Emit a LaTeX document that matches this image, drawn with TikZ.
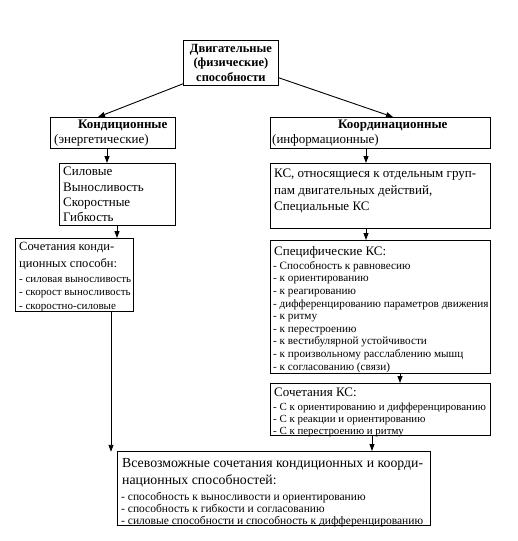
\documentclass[tikz,border=0pt]{standalone}
\usepackage{fontspec}
\setmainfont{Liberation Serif}
\usetikzlibrary{arrows.meta,calc}
\tikzset{
  box/.style={draw, line width=0.8pt, inner sep=0pt, anchor=north west},
  txt/.style={anchor=north west, align=left, inner sep=0pt, font=\fontsize{13}{16.5}\selectfont},
  smalltxt/.style={anchor=north west, align=left, inner sep=0pt, font=\fontsize{11.2}{12.6}\selectfont},
  arr/.style={-{Triangle[length=7pt,width=5pt]}, line width=0.9pt}
}
\begin{document}
\begin{tikzpicture}[x=1pt,y=-1pt]
\useasboundingbox (0,0) rectangle (518,541);
% boxes
\node[box, minimum width=95pt, minimum height=45pt] (top) at (183,40) {};
\node[box, minimum width=125pt, minimum height=31pt] (kond) at (50,117) {};
\node[box, minimum width=220pt, minimum height=31pt] (koord) at (270,117) {};
\node[box, minimum width=116pt, minimum height=62pt] (sil) at (59,163) {};
\node[box, minimum width=220pt, minimum height=65pt] (ks) at (270,163) {};
\node[box, minimum width=118pt, minimum height=73pt] (lsoch) at (15,238) {};
\node[box, minimum width=220pt, minimum height=133pt] (spec) at (270,240) {};
\node[box, minimum width=220pt, minimum height=52pt] (ksoch) at (270,383) {};
\node[box, minimum width=313pt, minimum height=74pt] (all) at (117,451) {};
% texts
\node[anchor=north, align=center, inner sep=0pt, font=\bfseries\fontsize{12.5}{14.5}\selectfont] (topt) at ($(top.north)+(0,4)$) {Двигательные\\(физические)\\способности};
\node[txt, font=\fontsize{13}{15}\selectfont] (kondt) at ($(kond.north west)+(4,3)$) {\hspace*{24pt}\textbf{Кондиционные}\\(энергетические)};
\node[txt, font=\fontsize{13}{15}\selectfont] (koordt) at ($(koord.north west)+(2,3)$) {\hspace*{66pt}\textbf{Координационные}\\(информационные)};
\node[txt, font=\fontsize{13}{15.3}\selectfont] (silt) at ($(sil.north west)+(4,4)$) {Силовые\\Выносливость\\Скоростные\\Гибкость};
\node[txt] (kst) at ($(ks.north west)+(4,6)$) {КС, относящиеся к отдельным груп-\\пам двигательных действий,\\Специальные КС};
\node[txt, font=\fontsize{12.5}{17}\selectfont] (lsocht) at ($(lsoch.north west)+(4,4)$) {Сочетания конди-\\ционных способн:};
\node[smalltxt, font=\fontsize{11}{13.5}\selectfont] (lsochs) at ($(lsoch.north west)+(4,39)$) {- силовая выносливость\\- скорост выносливость\\- скоростно-силовые};
\node[txt] (spect) at ($(spec.north west)+(4,6)$) {Специфические КС:};
\node[smalltxt] (specs) at ($(spec.north west)+(3,21)$) {- Способность к равновесию\\- к ориентированию\\- к реагированию\\- дифференцированию параметров движения\\- к ритму\\- к перестроению\\- к вестибулярной устойчивости\\- к произвольному расслаблению мышц\\- к согласованию (связи)};
\node[txt] (kst2) at ($(ksoch.north west)+(4,5)$) {Сочетания КС:};
\node[smalltxt, font=\fontsize{10.9}{12}\selectfont] (kss) at ($(ksoch.north west)+(3,20)$) {- С к ориентированию и дифференцированию\\- С к реакции и ориентированию\\- С к перестроению и ритму};
\node[txt, font=\fontsize{13.8}{17}\selectfont] (allt) at ($(all.north west)+(5,7)$) {Всевозможные сочетания кондиционных и коорди-\\национных способностей:};
\node[smalltxt, font=\fontsize{11.5}{12}\selectfont] (alls) at ($(all.north west)+(4,41)$) {- способность к выносливости и ориентированию\\- способность к гибкости и согласованию\\- силовые способности и способность к дифференцированию};
% connectors
\coordinate (lend) at ($(lsoch.south west)+(96,140)$);
\draw[arr] ($(top.south west)+(0,-2)$) -- ($(kond.north west)+(48,0)$);
\draw[arr] ($(top.south east)+(0,-8)$) -- ($(koord.north west)+(123,0)$);
\draw[arr] ($(kond.south west)+(57,0)$) -- ($(sil.north west)+(48,0)$);
\draw[arr] ($(koord.south west)+(96,0)$) -- ($(ks.north west)+(96,0)$);
\draw[arr] ($(sil.south west)+(58,0)$) -- ($(lsoch.north west)+(102,0)$);
\draw[arr] ($(ks.south west)+(96,0)$) -- ($(spec.north west)+(96,0)$);
\draw[arr] ($(spec.south west)+(130,0)$) -- ($(ksoch.north west)+(130,0)$);
\draw[arr] ($(ksoch.south west)+(102,0)$) -- ($(all.north west)+(255,0)$);
\draw[arr] ($(lsoch.south west)+(96,0)$) -- (lend);
\end{tikzpicture}
\end{document}
